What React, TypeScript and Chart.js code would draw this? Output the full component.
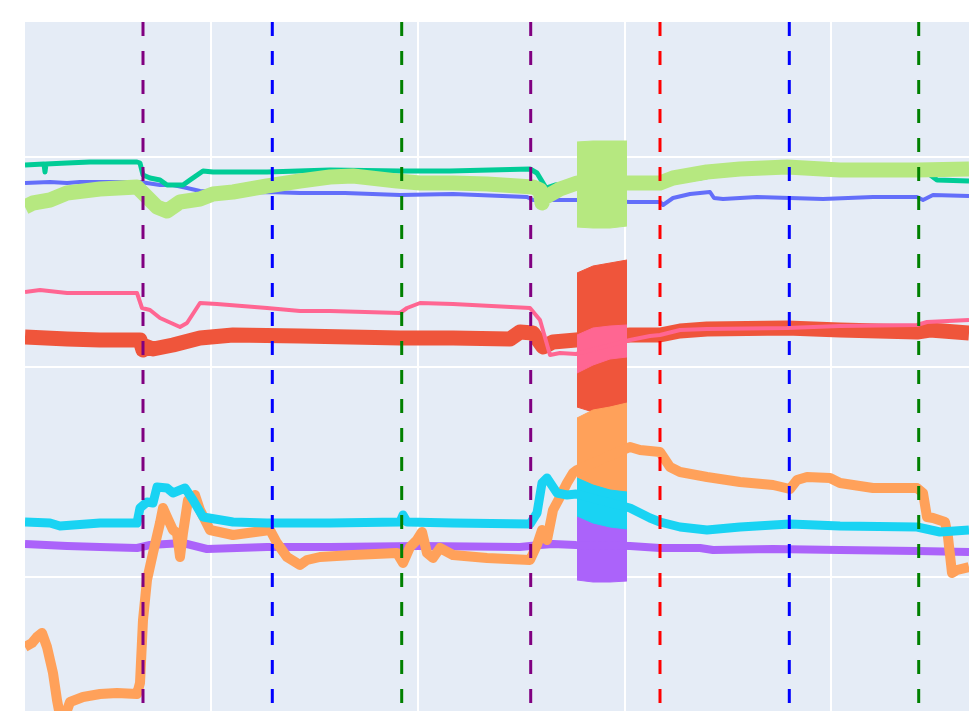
import React, { useEffect, useRef } from "react";
import { Chart, registerables } from "chart.js";

Chart.register(...registerables);

// Axis ranges (plot units) and gridline positions
const X_MIN = 0;
const X_MAX = 944;
const Y_MIN = 0;
const Y_MAX = 689;
const xGridValues = [186, 393, 599.5, 806];
const yGridValues = [134, 344, 554];

// Vertical dashed event markers
const eventX = [118, 247.3, 376.7, 505.7, 635, 764.3, 893.7];
const eventColors = ["purple", "blue", "green", "purple", "red", "blue", "green"];

// Series 0 (blue)
const blueX = [0, 25, 42, 55, 115, 135, 148, 162, 175, 208, 242, 275, 320, 375, 428, 502, 508, 535, 552, 605, 635, 638, 648, 665, 685, 689, 698, 732, 765, 798, 848, 892, 898, 908, 944];
const blueY = [528, 529, 528, 529, 529, 526, 526, 523, 520, 518, 519, 518, 518, 516, 517, 514, 511, 511, 511, 509, 509, 506, 513, 517, 519, 513, 512, 514, 513, 512, 514, 514, 511, 516, 515];

// Series 1 (red)
const redX = [0, 42, 75, 115, 118, 120, 128, 148, 175, 208, 275, 375, 428, 485, 495, 508, 518, 528, 551, 605, 635, 655, 682, 762, 815, 892, 905, 944];
const redY = [374, 372, 371, 371, 361, 365, 362, 366, 373, 376, 375, 373, 373, 372, 379, 378, 364, 369, 371, 376, 376, 380, 382, 383, 381, 379, 381, 378];

// Series 2 (green)
const greenX = [0, 19, 20, 21, 42, 65, 112, 115, 118, 125, 135, 142, 158, 165, 178, 188, 242, 305, 375, 425, 505, 512, 521, 530, 575, 615, 675, 705, 765, 875, 900, 912, 944];
const greenY = [546, 547, 539, 547, 548, 549, 549, 548, 536, 533, 531, 526, 526, 531, 540, 539, 539, 541, 540, 540, 542, 538, 523, 526, 531, 526, 533, 539, 543, 541, 540, 531, 530];

// Series 3 (purple)
const purpleX = [0, 42, 75, 112, 125, 158, 182, 242, 305, 395, 495, 515, 528, 551, 605, 635, 675, 688, 748, 815, 892, 944];
const purpleY = [167, 165, 164, 163, 166, 168, 162, 164, 164, 165, 164, 166, 167, 166, 165, 163, 163, 161, 162, 161, 160, 159];

// Series 4 (orange)
const orangeX = [0, 7, 12, 17, 22, 28, 32, 35, 40, 45, 58, 75, 92, 112, 115, 118, 122, 128, 135, 138, 142, 148, 152, 155, 158, 163, 170, 175, 185, 208, 245, 252, 262, 275, 282, 295, 328, 372, 378, 385, 392, 397, 402, 408, 415, 428, 462, 505, 512, 517, 522, 528, 535, 542, 548, 552, 605, 615, 635, 645, 655, 682, 715, 748, 765, 772, 782, 805, 815, 848, 892, 898, 902, 908, 920, 923, 927, 932, 944];
const orangeY = [64, 68, 74, 78, 64, 38, 11, -5, -5, 9, 14, 17, 18, 17, 28, 91, 131, 158, 188, 203, 194, 181, 178, 154, 178, 211, 216, 201, 181, 176, 181, 168, 154, 146, 151, 154, 156, 158, 148, 164, 171, 179, 158, 153, 163, 156, 153, 151, 166, 181, 171, 201, 214, 228, 238, 241, 264, 261, 259, 244, 239, 234, 229, 226, 222, 231, 234, 233, 228, 223, 223, 218, 194, 193, 189, 174, 138, 141, 144];

// Series 5 (cyan)
const cyanX = [0, 25, 35, 75, 112, 115, 122, 128, 132, 142, 148, 160, 168, 178, 208, 242, 305, 375, 378, 382, 428, 505, 512, 517, 522, 532, 542, 551, 605, 625, 635, 655, 682, 715, 765, 815, 892, 915, 944];
const cyanY = [189, 188, 185, 188, 188, 203, 209, 208, 224, 223, 218, 223, 211, 194, 189, 188, 188, 189, 196, 189, 188, 187, 198, 228, 233, 218, 216, 217, 203, 193, 189, 184, 181, 184, 187, 185, 184, 179, 181];

// Series 6 (pink)
const pinkX = [0, 15, 42, 58, 112, 117, 125, 135, 155, 162, 175, 192, 242, 275, 305, 375, 382, 395, 428, 505, 515, 525, 535, 551, 605, 625, 635, 655, 682, 762, 815, 892, 902, 944];
const pinkY = [419, 421, 418, 418, 418, 403, 401, 393, 384, 388, 408, 407, 403, 400, 400, 398, 403, 408, 407, 403, 391, 356, 358, 357, 371, 375, 376, 381, 382, 383, 385, 386, 389, 391];

// Series 7 (light green)
const limeX = [0, 8, 25, 42, 75, 112, 118, 132, 142, 155, 175, 188, 208, 242, 275, 305, 328, 372, 395, 428, 462, 508, 515, 517, 519, 535, 552, 605, 635, 648, 682, 715, 762, 815, 892, 944];
const limeY = [504, 508, 511, 518, 522, 524, 518, 504, 500, 509, 512, 517, 519, 525, 530, 534, 535, 530, 528, 528, 527, 524, 521, 508, 513, 522, 528, 528, 528, 533, 539, 542, 544, 541, 541, 542];

// Oscillation burst envelopes (shared x positions)
const burstX = [552, 568, 585, 602];
const limeBurstTop = [569, 570, 570, 570];
const limeBurstBottom = [484, 483, 483, 485];
const redBurstTop = [438, 445, 448, 451];
const redBurstBottom = [304, 299, 304, 308];
const pinkBurstTop = [376, 383, 385, 386];
const pinkBurstBottom = [338, 346, 352, 354];
const cyanBurstTop = [233, 226, 221, 219];
const cyanBurstBottom = [195, 188, 184, 182];
const orangeBurstTop = [293, 301, 304, 308];
const orangeBurstBottom = [205, 205, 205, 205];
const purpleBurstTop = [200, 193, 189, 187];
const purpleBurstBottom = [131, 129, 129, 130];

const pts = (xs: number[], ys: number[]) => xs.map((x, i) => ({ x, y: ys[i] }));

export default function App() {
  const ref = useRef<HTMLCanvasElement | null>(null);

  useEffect(() => {
    if (!ref.current) return;

    const series = [
      { color: "#636EFA", width: 4, xs: blueX, ys: blueY, order: 8 },
      { color: "#EF553B", width: 15, xs: redX, ys: redY, order: 7 },
      { color: "#00CC96", width: 5, xs: greenX, ys: greenY, order: 6 },
      { color: "#AB63FA", width: 8, xs: purpleX, ys: purpleY, order: 5 },
      { color: "#FFA15A", width: 10, xs: orangeX, ys: orangeY, order: 4 },
      { color: "#19D3F3", width: 9, xs: cyanX, ys: cyanY, order: 3 },
      { color: "#FF6692", width: 4, xs: pinkX, ys: pinkY, order: 2 },
      { color: "#B6E880", width: 15, xs: limeX, ys: limeY, order: 1 },
    ];

    const bursts = [
      { color: "#EF553B", top: redBurstTop, bottom: redBurstBottom, order: 7 },
      { color: "#AB63FA", top: purpleBurstTop, bottom: purpleBurstBottom, order: 5 },
      { color: "#FFA15A", top: orangeBurstTop, bottom: orangeBurstBottom, order: 4 },
      { color: "#19D3F3", top: cyanBurstTop, bottom: cyanBurstBottom, order: 3 },
      { color: "#FF6692", top: pinkBurstTop, bottom: pinkBurstBottom, order: 2 },
      { color: "#B6E880", top: limeBurstTop, bottom: limeBurstBottom, order: 1 },
    ];

    const datasets: any[] = [];

    eventX.forEach((x, i) => {
      datasets.push({
        data: [
          { x, y: Y_MAX },
          { x, y: Y_MIN },
        ],
        borderColor: eventColors[i],
        borderWidth: 3,
        borderDash: [14, 15],
        pointRadius: 0,
        fill: false,
        order: 0,
      });
    });

    series.forEach((s) => {
      datasets.push({
        data: pts(s.xs, s.ys),
        borderColor: s.color,
        borderWidth: s.width,
        borderJoinStyle: "round",
        borderCapStyle: "butt",
        pointRadius: 0,
        tension: 0,
        fill: false,
        order: s.order,
      });
    });

    bursts.forEach((b) => {
      datasets.push({
        data: pts(burstX, b.top),
        borderColor: b.color,
        backgroundColor: b.color,
        borderWidth: 1,
        pointRadius: 0,
        tension: 0,
        fill: "+1",
        order: b.order,
      });
      datasets.push({
        data: pts(burstX, b.bottom),
        borderColor: b.color,
        backgroundColor: b.color,
        borderWidth: 1,
        pointRadius: 0,
        tension: 0,
        fill: false,
        order: b.order,
      });
    });

    const bgPlugin = {
      id: "plotBg",
      beforeDraw(chart: any) {
        const { ctx, chartArea } = chart;
        ctx.save();
        ctx.fillStyle = "#E5ECF6";
        ctx.fillRect(chartArea.left, chartArea.top, chartArea.right - chartArea.left, chartArea.bottom - chartArea.top);
        ctx.restore();
      },
    };

    const chart = new Chart(ref.current, {
      type: "line",
      data: { datasets },
      options: {
        responsive: false,
        animation: false,
        events: [],
        layout: { padding: { left: 25, top: 22, right: 0, bottom: 0 } },
        plugins: {
          legend: { display: false },
          tooltip: { enabled: false },
        },
        scales: {
          x: {
            type: "linear",
            min: X_MIN,
            max: X_MAX,
            ticks: { display: false },
            grid: { color: "#FFFFFF", lineWidth: 2, drawTicks: false },
            border: { display: false },
            afterBuildTicks: (s: any) => {
              s.ticks = xGridValues.map((v) => ({ value: v }));
            },
            afterFit: (s: any) => {
              s.height = 0;
            },
          },
          y: {
            type: "linear",
            min: Y_MIN,
            max: Y_MAX,
            ticks: { display: false },
            grid: { color: "#FFFFFF", lineWidth: 2, drawTicks: false },
            border: { display: false },
            afterBuildTicks: (s: any) => {
              s.ticks = yGridValues.map((v) => ({ value: v }));
            },
            afterFit: (s: any) => {
              s.width = 0;
            },
          },
        },
      },
      plugins: [bgPlugin],
    } as any);

    return () => chart.destroy();
  }, []);

  return (
    <div style={{ position: "absolute", left: 0, top: 0, width: 969, height: 711, background: "#FFFFFF" }}>
      <canvas ref={ref} width={969} height={711} style={{ display: "block" }} />
    </div>
  );
}
